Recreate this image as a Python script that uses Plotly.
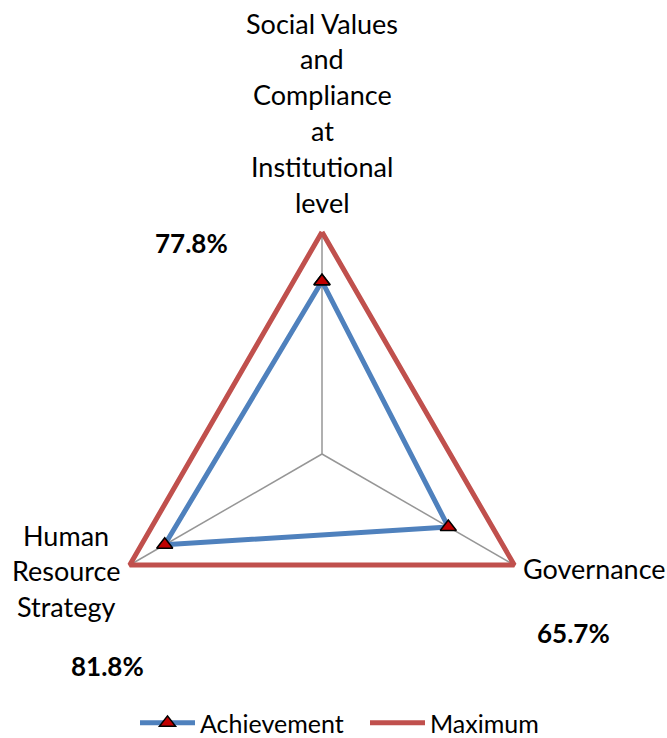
import plotly.graph_objects as go

categories = ["Social Values and Compliance at Institutional level", "Governance", "Human Resource Strategy"]
category_lines = [["Social Values", "and", "Compliance", "at", "Institutional", "level"],
                  ["Governance"],
                  ["Human", "Resource", "Strategy"]]
achievement = [0.778, 0.657, 0.818]
maximum = [1.0, 1.0, 1.0]
pct_labels = ["77.8%", "65.7%", "81.8%"]

W, H = 667, 738
cx, cy, R = 322, 454, 222
RMAX = 1.03
RD = R * RMAX
FONT = "Lato, Carlito, Calibri, Liberation Sans, sans-serif"

fig = go.Figure()
fig.add_trace(go.Scatterpolar(
    r=achievement + achievement[:1], theta=categories + categories[:1],
    mode="lines+markers", name="Achievement", cliponaxis=False,
    line=dict(color="#4F81BD", width=5),
    marker=dict(symbol="triangle-up", size=14, color="#C00000", line=dict(color="black", width=1.5)),
))
fig.add_trace(go.Scatterpolar(
    r=maximum + maximum[:1], theta=categories + categories[:1],
    mode="lines", name="Maximum", cliponaxis=False,
    line=dict(color="#C0504D", width=5),
))

fig.update_layout(
    width=W, height=H,
    margin=dict(l=0, r=0, t=0, b=0, autoexpand=False),
    paper_bgcolor="white", plot_bgcolor="white",
    font=dict(family=FONT, size=27, color="black"),
    polar=dict(
        domain=dict(x=[(cx - RD) / W, (cx + RD) / W], y=[(H - cy - RD) / H, (H - cy + RD) / H]),
        bgcolor="white",
        gridshape="linear",
        radialaxis=dict(range=[0, RMAX], showticklabels=False, showline=False, ticks="", showgrid=False),
        angularaxis=dict(rotation=90, direction="clockwise", showticklabels=False, ticks="",
                         showline=False, showgrid=False),
    ),
    legend=dict(orientation="h", x=135 / W, xanchor="left", y=-0.011, yanchor="bottom",
                font=dict(size=25), itemwidth=55, traceorder="normal",
                entrywidth=160, entrywidthmode="pixels"),
    showlegend=True,
)

# spokes from centre to each maximum vertex, drawn through the polar axes
for c, m in zip(categories, maximum):
    fig.add_trace(go.Scatterpolar(r=[0, m], theta=[c, c], mode="lines", showlegend=False,
                                  hoverinfo="skip", line=dict(color="#969696", width=1.5)))
# put spokes beneath the data lines
fig.data = fig.data[2:] + fig.data[:2]

# category labels (one annotation per line, Excel-like line spacing)
label_pos = [(322, 23), (594, 568), (66, 535)]
line_gap = 35.8
annotations = []
for (lx, ly), lines in zip(label_pos, category_lines):
    for i, t in enumerate(lines):
        annotations.append(dict(text=t, x=lx / W, y=1 - (ly + i * line_gap) / H, xref="paper", yref="paper",
                                showarrow=False, xanchor="center", yanchor="middle", font=dict(size=27)))
pct_pos = [(192, 243), (573, 633), (107, 666)]
for (px, py), t in zip(pct_pos, pct_labels):
    annotations.append(dict(text="<b>%s</b>" % t, x=px / W, y=1 - py / H, xref="paper", yref="paper",
                            showarrow=False, xanchor="center", yanchor="middle", font=dict(size=26)))
fig.update_layout(annotations=annotations)

fig.write_html("out.html", config={"displayModeBar": False},
               post_script="document.body.style.margin='0';document.body.style.overflow='hidden';")
